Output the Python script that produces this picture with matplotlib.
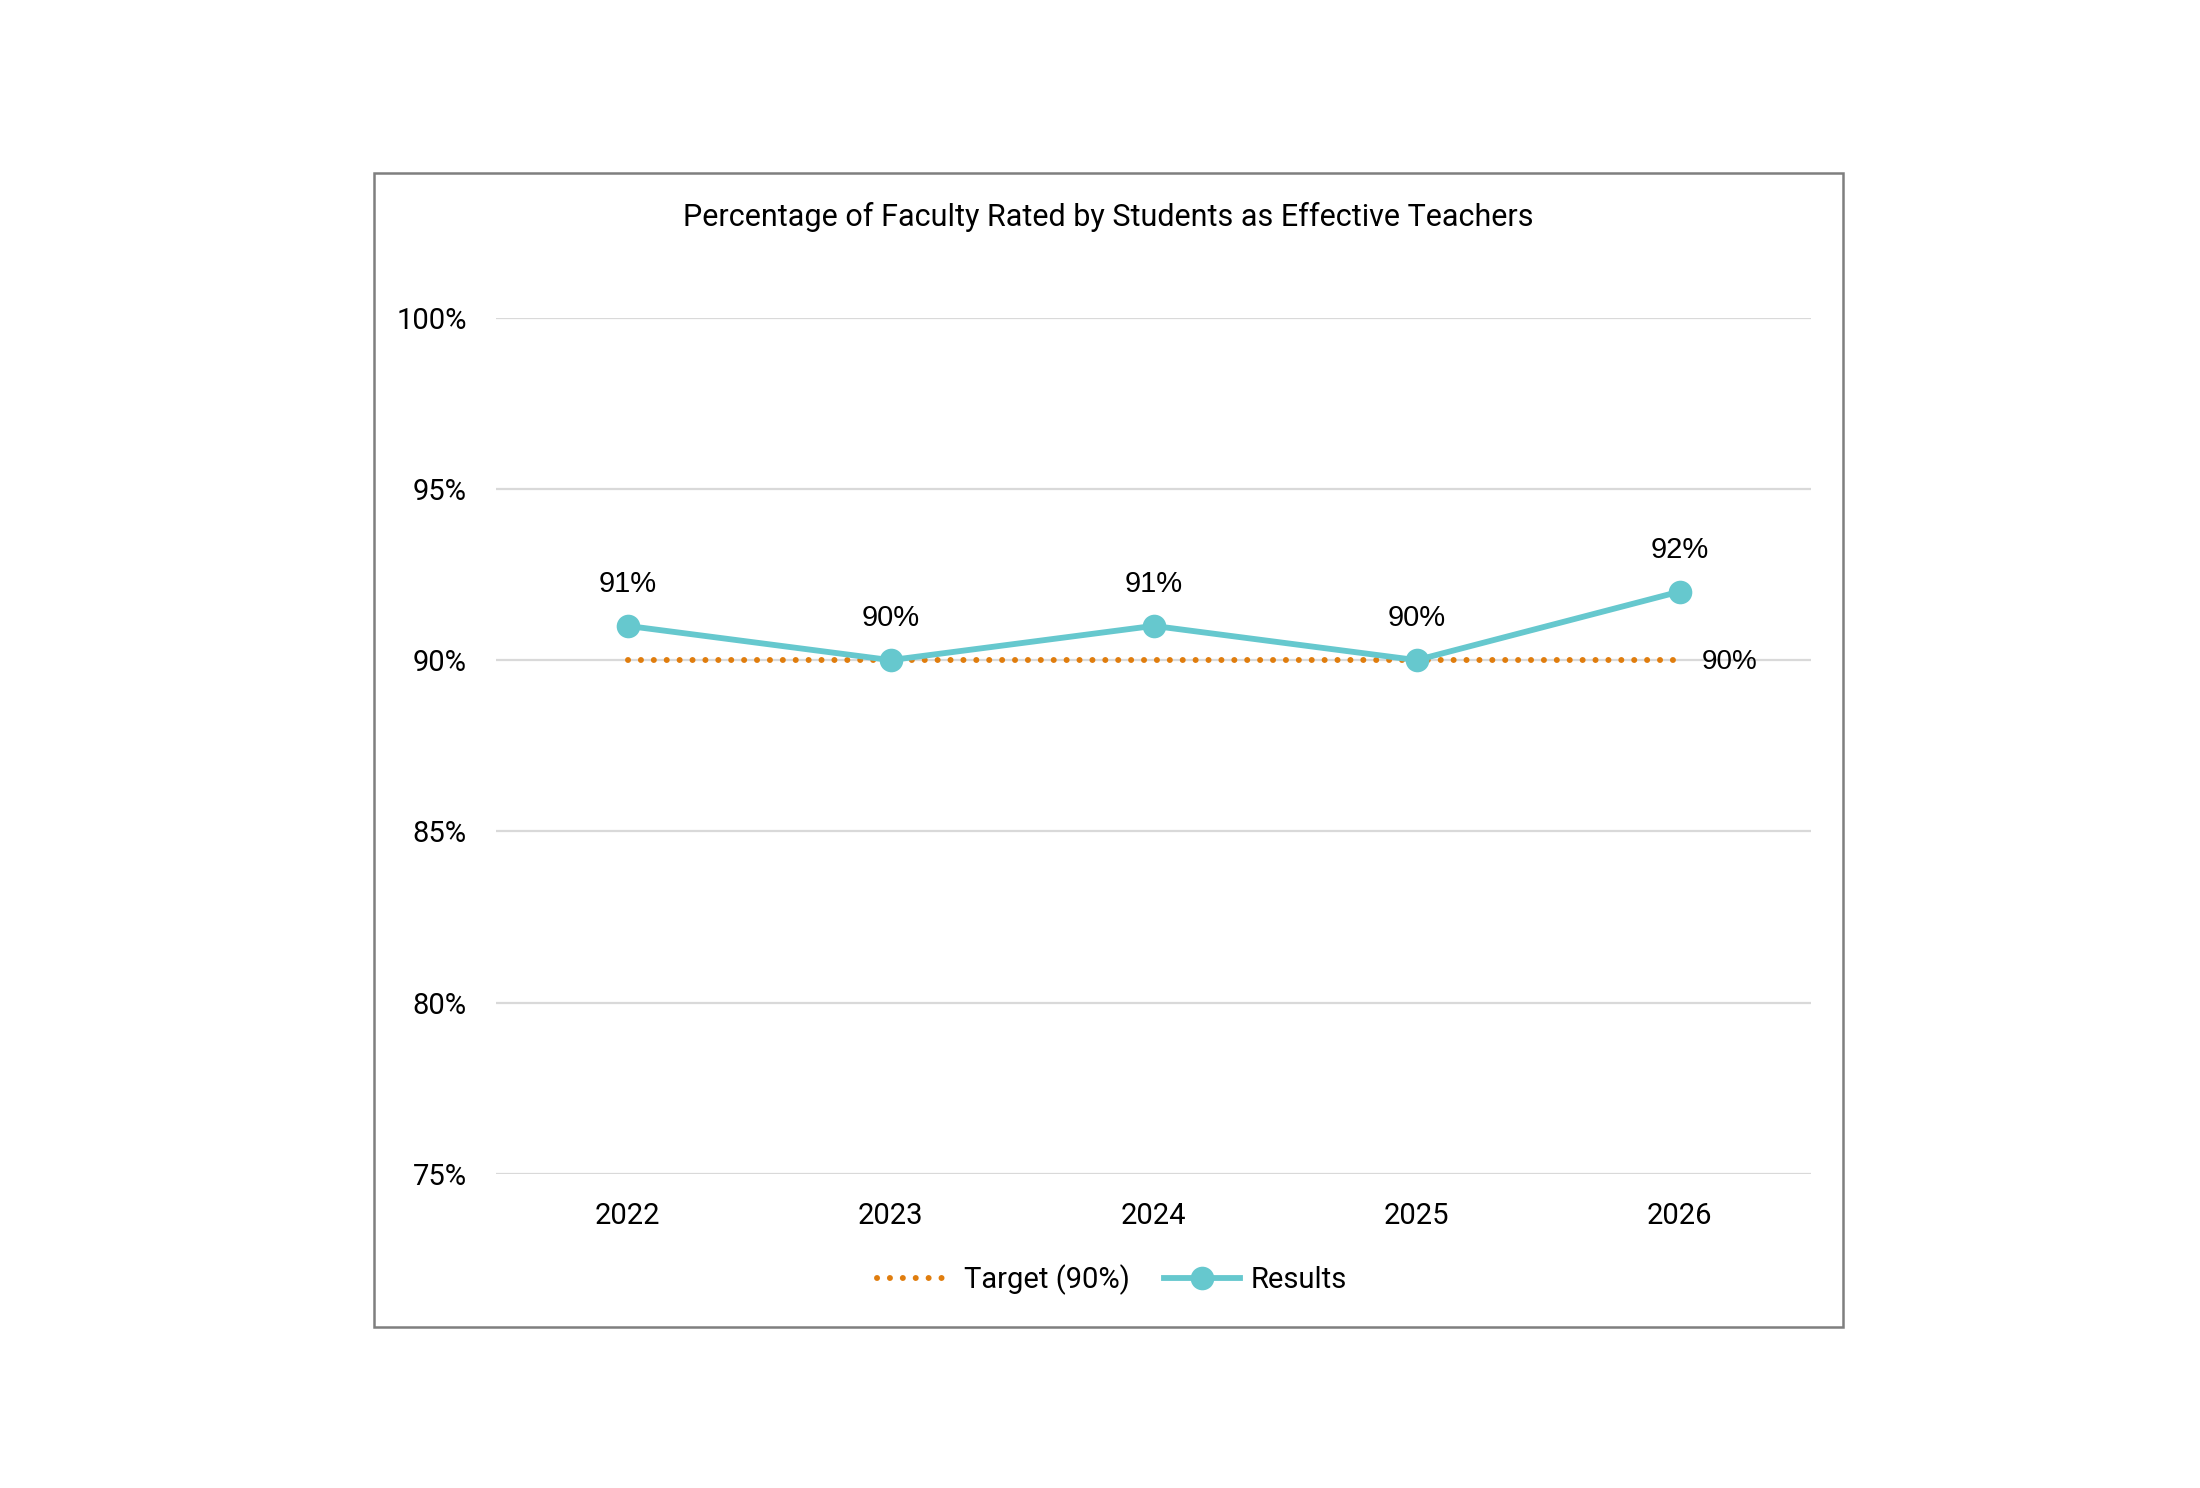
import matplotlib
matplotlib.use("Agg")
import matplotlib.pyplot as plt
from matplotlib.patches import Rectangle
from matplotlib.lines import Line2D

years = ["2022", "2023", "2024", "2025", "2026"]
results = [0.91, 0.90, 0.91, 0.90, 0.92]
target = [0.90, 0.90, 0.90, 0.90, 0.90]
yticks = [0.75, 0.80, 0.85, 0.90, 0.95, 1.00]
ytick_labels = ["75%", "80%", "85%", "90%", "95%", "100%"]
title = "Percentage of Faculty Rated by Students as Effective Teachers"

TEAL = "#66C8CE"
ORANGE = "#E07D0E"
FONT = ["Roboto", "DejaVu Sans"]
LABFONT = ["Liberation Sans", "DejaVu Sans"]
DOTS = (0, (0.01, 2.15))

fig = plt.figure(figsize=(11, 7.44), dpi=200)
fig.patch.set_facecolor("white")

# outer chart border
fig.patches.append(Rectangle((0.170, 0.1082), 0.8377 - 0.170, 0.8837 - 0.1082,
                             transform=fig.transFigure, fill=False,
                             edgecolor="#7F7F7F", linewidth=0.9, zorder=0))

ax = fig.add_axes([0.2255, 0.2110, 0.5977, 0.5756])
x = list(range(len(years)))

ax.set_xlim(-0.5, len(years) - 0.5)
ax.set_ylim(0.75, 1.0)
ax.set_yticks(yticks)
ax.set_yticklabels(ytick_labels, fontfamily=FONT, fontsize=10.5)
ax.set_xticks(x)
ax.set_xticklabels(years, fontfamily=FONT, fontsize=10.5)
ax.tick_params(axis="both", length=0, colors="black")
ax.tick_params(axis="y", pad=10.5)
ax.tick_params(axis="x", pad=10)
for s in ax.spines.values():
    s.set_visible(False)
ax.grid(axis="y", color="#D9D9D9", linewidth=0.8)
ax.set_axisbelow(True)

ax.plot(x, target, color=ORANGE, linewidth=2.15, linestyle=DOTS,
        dash_capstyle="round", zorder=2)
ax.plot(x, results, color=TEAL, linewidth=2.1, marker="o", markersize=7.5,
        zorder=3)

for xi, v in zip(x, results):
    ax.annotate(f"{v*100:.0f}%", (xi, v), xytext=(0, 15), textcoords="offset points",
                ha="center", va="center", fontsize=10.5, fontfamily=LABFONT)
ax.annotate(f"{target[-1]*100:.0f}%", (x[-1], target[-1]), xytext=(18, -0.5),
            textcoords="offset points", ha="center", va="center",
            fontsize=10, fontfamily=LABFONT)

fig.text(0.5036, 0.8545, title, ha="center", va="center", fontsize=11,
         fontfamily=FONT)

handles = [
    Line2D([], [], color=ORANGE, linewidth=2.15, linestyle=DOTS,
           dash_capstyle="round"),
    Line2D([], [], color=TEAL, linewidth=2.1, marker="o", markersize=7.5),
]
fig.legend(handles, ["Target (90%)", "Results"], loc="center",
           bbox_to_anchor=(0.5055, 0.1398), ncol=2, frameon=False,
           prop={"family": FONT, "size": 10.5}, handlelength=2.6,
           handletextpad=0.35, columnspacing=1.2)

fig.savefig("out.png", dpi=200, facecolor="white")
